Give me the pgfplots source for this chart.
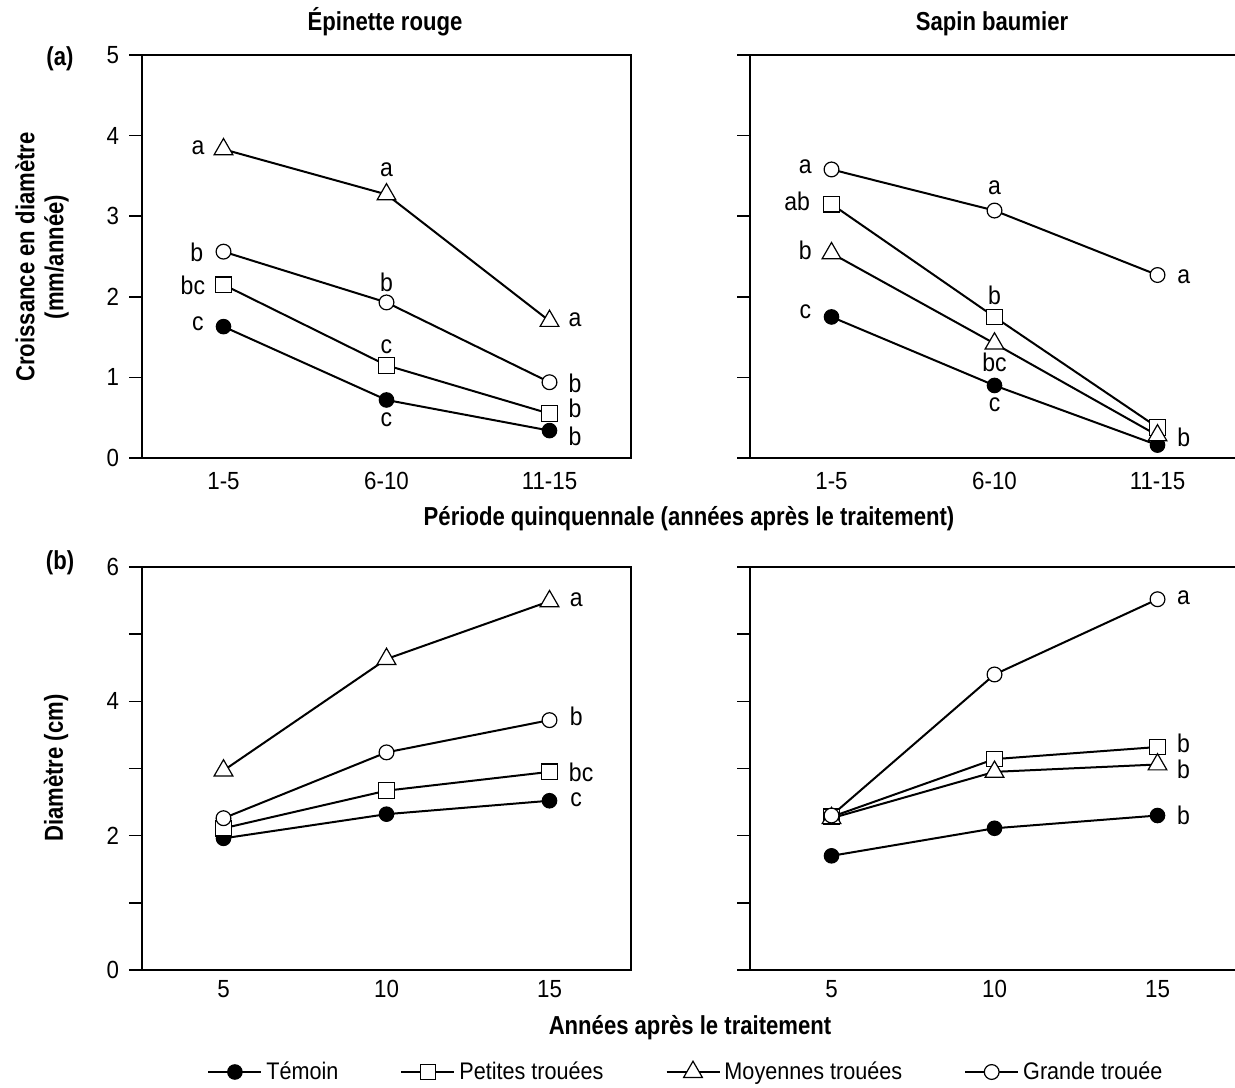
\documentclass[border=0pt]{standalone}
\usepackage{pgfplots}
\pgfplotsset{compat=1.18}
\usepackage{fontspec}
\setmainfont{Liberation Sans}[FakeStretch=0.9]
\newfontfamily\bfam{Liberation Sans}[FakeStretch=0.85]
\newcommand\pp[2]{({#1*0.5pt},{(1087-#2)*0.5pt})}
\newcommand\bfont{\bfam\bfseries\fontsize{13}{14.5}\selectfont}
\tikzset{lt/.style={font=\fontsize{12.8}{14}\selectfont, inner sep=0pt, anchor=center}}
\pgfplotsset{
  panel/.style={
    scale only axis, width=244.5pt, height=201.5pt, anchor=south west,
    axis line style={line width=0.75pt},
    ytick style={line width=0.75pt, black},
    ytick pos=left, tick align=outside, major tick length=6.5pt,
    xtick style={draw=none},
    tick label style={font=\fontsize{12.4}{14}\selectfont},
    yticklabel style={xshift=-1.5pt},
    /pgf/number format/assume math mode=true,
    clip=false,
  },
  temoin/.style={black, line width=1pt, mark=*, mark size=3.6pt, mark options={draw=black, fill=black, line width=0.6pt}},
  petites/.style={black, line width=1pt, mark=square*, mark size=3.9pt, mark options={draw=black, fill=white, line width=0.6pt}},
  moyennes/.style={black, line width=1pt, mark=triangle*, mark size=5.4pt, mark options={draw=black, fill=white, line width=0.6pt}},
  grande/.style={black, line width=1pt, mark=*, mark size=3.7pt, mark options={draw=black, fill=white, line width=0.6pt}},
}
\begin{document}
\begin{tikzpicture}
\path[use as bounding box] (0,0) rectangle (617.5pt,543.5pt);

% ---------- (a) Epinette rouge ----------
\begin{axis}[panel, at={(71pt,314.5pt)},
  xmin=0.5, xmax=3.5, ymin=0, ymax=5,
  xtick={1,2,3}, xticklabels={1-5,6-10,11-15}, xticklabel style={yshift=3pt},
  ytick={0,1,2,3,4,5}]
\addplot[temoin] coordinates {(1,1.63) (2,0.72) (3,0.34)};
\addplot[petites] coordinates {(1,2.15) (2,1.15) (3,0.55)};
\addplot[moyennes] coordinates {(1,3.83) (2,3.27) (3,1.70)};
\addplot[grande] coordinates {(1,2.56) (2,1.93) (3,0.94)};
\node[lt] at (axis cs:0.843,3.846) {a};
\node[lt] at (axis cs:2,3.573) {a};
\node[lt] at (axis cs:3.157,1.712) {a};
\node[lt] at (axis cs:0.836,2.556) {b};
\node[lt] at (axis cs:2,2.184) {b};
\node[lt] at (axis cs:3.157,0.931) {b};
\node[lt] at (axis cs:0.812,2.146) {bc};
\node[lt] at (axis cs:2,1.377) {c};
\node[lt] at (axis cs:3.157,0.620) {b};
\node[lt] at (axis cs:0.843,1.663) {c};
\node[lt] at (axis cs:2,0.471) {c};
\node[lt] at (axis cs:3.157,0.273) {b};
\end{axis}

% ---------- (a) Sapin baumier ----------
\begin{axis}[panel, at={(375pt,314.5pt)},
  xmin=0.5, xmax=3.5, ymin=0, ymax=5,
  xtick={1,2,3}, xticklabels={1-5,6-10,11-15}, xticklabel style={yshift=3pt},
  ytick={0,1,2,3,4,5}, yticklabels={}]
\addplot[temoin] coordinates {(1,1.75) (2,0.90) (3,0.16)};
\addplot[petites] coordinates {(1,3.15) (2,1.75) (3,0.38)};
\addplot[moyennes] coordinates {(1,2.54) (2,1.42) (3,0.28)};
\addplot[grande] coordinates {(1,3.58) (2,3.07) (3,2.27)};
\node[lt] at (axis cs:0.839,3.61) {a};
\node[lt] at (axis cs:2,3.35) {a};
\node[lt] at (axis cs:3.161,2.246) {a};
\node[lt] at (axis cs:0.789,3.19) {ab};
\node[lt] at (axis cs:2,2.02) {b};
\node[lt] at (axis cs:0.839,2.58) {b};
\node[lt] at (axis cs:2,1.19) {bc};
\node[lt] at (axis cs:0.839,1.81) {c};
\node[lt] at (axis cs:2,0.66) {c};
\node[lt] at (axis cs:3.161,0.26) {b};
\end{axis}

% ---------- (b) Epinette rouge ----------
\begin{axis}[panel, at={(71pt,58.5pt)},
  xmin=2.5, xmax=17.5, ymin=0, ymax=6,
  xtick={5,10,15}, xticklabel style={yshift=5pt},
  ytick={0,1,2,3,4,5,6}, yticklabels={0,,2,,4,,6},
  legend columns=4,
  legend style={draw=none, fill=none, inner sep=0pt, at={(0.1329,-0.2531)}, anchor=west,
    font=\fontsize{12}{14}\selectfont,
    /tikz/every even column/.append style={column sep=29pt}},
  legend image code/.code={\draw[mark repeat=2,mark phase=2,#1] plot coordinates {(0pt,0pt) (13.25pt,0pt) (26.5pt,0pt)};}]
\addplot[temoin] coordinates {(5,1.96) (10,2.32) (15,2.52)};
\addplot[petites] coordinates {(5,2.11) (10,2.67) (15,2.95)};
\addplot[moyennes] coordinates {(5,2.97) (10,4.63) (15,5.49)};
\addplot[grande] coordinates {(5,2.26) (10,3.24) (15,3.72)};
\legend{Témoin, Petites trouées, Moyennes trouées, Grande trouée}
\node[lt] at (axis cs:15.82,5.51) {a};
\node[lt] at (axis cs:15.82,3.77) {b};
\node[lt] at (axis cs:15.97,2.95) {bc};
\node[lt] at (axis cs:15.82,2.53) {c};
\end{axis}

% ---------- (b) Sapin baumier ----------
\begin{axis}[panel, at={(375pt,58.5pt)},
  xmin=2.5, xmax=17.5, ymin=0, ymax=6,
  xtick={5,10,15}, xticklabel style={yshift=5pt},
  ytick={0,1,2,3,4,5,6}, yticklabels={}]
\addplot[temoin] coordinates {(5,1.70) (10,2.11) (15,2.30)};
\addplot[petites] coordinates {(5,2.28) (10,3.14) (15,3.32)};
\addplot[moyennes] coordinates {(5,2.26) (10,2.95) (15,3.06)};
\addplot[grande] coordinates {(5,2.30) (10,4.40) (15,5.52)};
\node[lt] at (axis cs:15.8,5.54) {a};
\node[lt] at (axis cs:15.8,3.38) {b};
\node[lt] at (axis cs:15.8,2.98) {b};
\node[lt] at (axis cs:15.8,2.30) {b};
\end{axis}

% ---------- titles and labels ----------
\node[anchor=base, font=\bfont] at \pp{385}{31} {Épinette rouge};
\node[anchor=base, font=\bfont] at \pp{992}{31} {Sapin baumier};
\node[font=\bfont] at \pp{60}{59} {(a)};
\node[font=\bfont] at \pp{60}{563} {(b)};
\node[rotate=90, align=center, font=\bfont] at \pp{42}{257} {Croissance en diamètre\\(mm/année)};
\node[rotate=90, font=\bfont] at \pp{56}{768} {Diamètre (cm)};
\node[anchor=base, font=\bfont] at \pp{689}{526} {Période quinquennale (années après le traitement)};
\node[anchor=base, font=\bfont] at \pp{690}{1034} {Années après le traitement};
\end{tikzpicture}
\end{document}
